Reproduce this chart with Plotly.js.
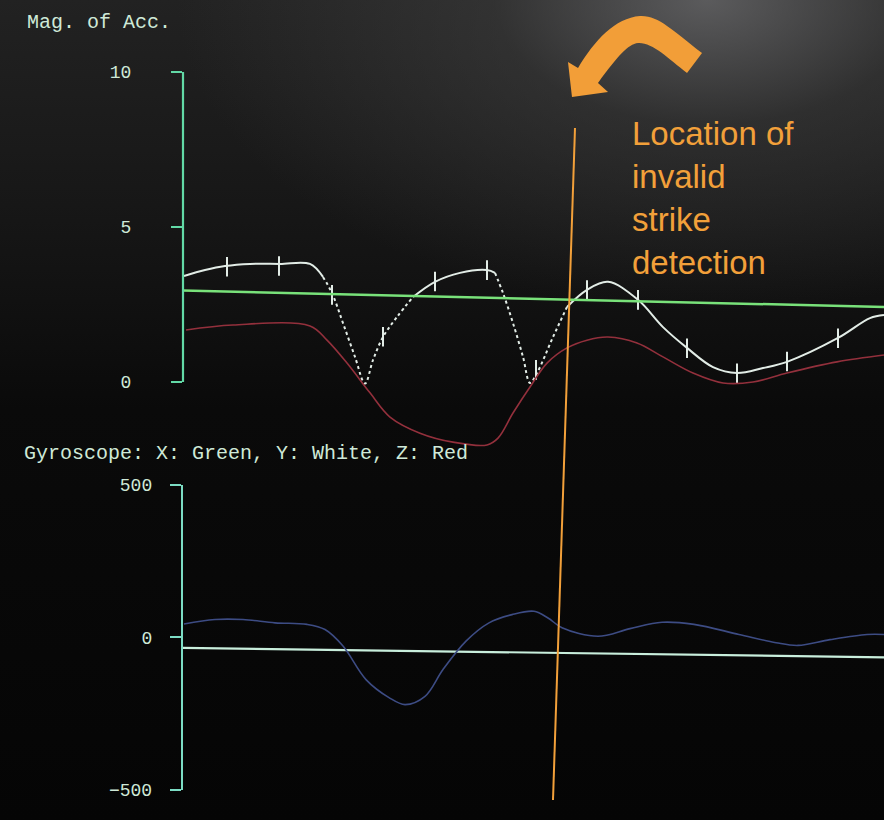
<!DOCTYPE html>
<html>
<head>
<meta charset="utf-8">
<script src="https://cdn.plot.ly/plotly-3.0.1.min.js"></script>
<style>
  html, body { margin: 0; padding: 0; }
  body {
    width: 884px; height: 820px; overflow: hidden;
    background:
      radial-gradient(ellipse 60% 38% at 80% 0%, rgba(110,110,112,0.75) 0%, rgba(70,70,70,0.45) 40%, rgba(30,30,30,0) 100%),
      linear-gradient(to bottom, #222222 0%, #171717 25%, #0a0a0a 50%, #050505 100%);
  }
</style>
</head>
<body>
<div id="graphDiv"></div>
<script>
// sample index (t) and values

// accelerometer magnitude, white trace
const accT = [1, 22, 42, 67, 97, 127, 140, 149, 160, 172, 182, 190, 200, 214, 230, 252, 277, 304, 312, 320, 330, 340, 347, 354, 370, 384, 404, 425, 455, 480, 504, 530, 554, 580, 604, 655, 687, 701]
const accY = [3.42, 3.61, 3.74, 3.81, 3.81, 3.81, 3.39, 2.87, 1.90, 0.81, -0.05, 0.71, 1.45, 2.10, 2.74, 3.23, 3.52, 3.61, 3.52, 2.87, 1.90, 0.81, -0.03, 0.29, 1.45, 2.42, 2.97, 3.23, 2.65, 1.77, 1.10, 0.48, 0.29, 0.45, 0.65, 1.42, 2.06, 2.16]
// sample markers on the white trace
const tickT = [44, 96, 149, 200, 252, 304, 353, 404, 455, 504, 554, 604, 655]
const tickY = [3.72, 3.74, 2.81, 1.46, 3.24, 3.61, 0.39, 2.97, 2.65, 1.09, 0.28, 0.66, 1.41]
// red trace
const redT = [3, 50, 127, 144, 164, 187, 207, 237, 270, 304, 315, 330, 347, 364, 384, 404, 425, 454, 480, 510, 540, 570, 604, 654, 701]
const redY = [1.68, 1.84, 1.81, 1.35, 0.61, -0.35, -1.13, -1.65, -1.94, -2.03, -1.81, -1.00, -0.16, 0.61, 1.10, 1.35, 1.45, 1.26, 0.81, 0.29, -0.03, 0.0, 0.29, 0.65, 0.87]
// green threshold line
const thrT = [0, 701]
const thrY = [2.95, 2.42]

// gyroscope
const gyrT = [1, 32, 60, 92, 124, 142, 160, 183, 206, 222, 242, 260, 283, 306, 329, 351, 365, 379, 415, 447, 479, 511, 556, 593, 615, 647, 684, 701]
const gyrY = [44, 59, 59, 48, 43, 26, -28, -138, -197, -220, -193, -105, -12, 48, 75, 86, 64, 32, 4, 29, 50, 43, 10, -17, -26, -7, 10, 10]
const gyrLineT = [0, 701]
const gyrLineY = [-34, -65]

// segments of the white trace drawn dotted (index ranges)
const dotted = [[6, 14], [18, 25]]

// pixel -> paper helpers
const L = 183, T = 72, W = 701, H = 718
const px = x => (x - L) / W
const py = y => (T + H - y) / H

const mint = '#62d9a6'
const mint2 = '#7cdcc4'
const txtCol = '#cfe9d8'
const mono = 'Liberation Mono, DejaVu Sans Mono, monospace'
const orange = '#f2a03a'

let traces = []
// white trace split into solid / dotted pieces
let cuts = [0]
dotted.forEach(d => { cuts.push(d[0]); cuts.push(d[1]) })
cuts.push(accT.length - 1)
for (let i = 0; i < cuts.length - 1; i++) {
    let a = cuts[i], b = cuts[i + 1]
    traces.push({
        x: accT.slice(a, b + 1), y: accY.slice(a, b + 1),
        mode: 'lines', hoverinfo: 'skip',
        line: {color: '#e2ece6', width: 2, dash: i % 2 ? 'dot' : 'solid', shape: 'spline'}
    })
}
traces.push({
    x: tickT, y: tickY, mode: 'markers', hoverinfo: 'skip',
    marker: {symbol: 'line-ns', size: 14, line: {color: '#e2ece6', width: 2}}
})
traces.push({
    x: redT, y: redY, mode: 'lines', hoverinfo: 'skip',
    line: {color: '#93303c', width: 1.6, shape: 'spline'}
})
traces.push({
    x: thrT, y: thrY, mode: 'lines', hoverinfo: 'skip',
    line: {color: '#79e27a', width: 2.5}
})
traces.push({
    x: gyrLineT, y: gyrLineY, xaxis: 'x2', yaxis: 'y2', mode: 'lines', hoverinfo: 'skip',
    line: {color: '#c8eedc', width: 2.2}
})
traces.push({
    x: gyrT, y: gyrY, xaxis: 'x2', yaxis: 'y2', mode: 'lines', hoverinfo: 'skip',
    line: {color: '#3d4c84', width: 1.6, shape: 'spline'}
})

// curved arrow outline, in screen pixels
const arrow = [
    ['M', 568, 62], ['L', 578, 68],
    ['C', 595, 40, 615, 18, 640, 16], ['C', 658, 15, 672, 30, 702, 53],
    ['L', 687, 73],
    ['C', 668, 58, 652, 42, 638, 43], ['C', 628, 44, 618, 56, 598, 83],
    ['L', 608, 92], ['L', 572, 97]
]
let arrowPath = arrow.map(s => {
    let out = s[0]
    for (let k = 1; k < s.length; k += 2) out += ' ' + px(s[k]).toFixed(4) + ',' + py(s[k + 1]).toFixed(4)
    return out
}).join(' ') + ' Z'

const layout = {
    width: 884,
    height: 820,
    margin: {l: L, r: 0, t: T, b: 820 - T - H, pad: 0},
    paper_bgcolor: 'rgba(0,0,0,0)',
    plot_bgcolor: 'rgba(0,0,0,0)',
    showlegend: false,
    xaxis: {range: [0, 701], visible: false, fixedrange: true},
    xaxis2: {range: [0, 701], visible: false, anchor: 'y2'},
    yaxis: {
        domain: [0.4711, 1], range: [-2.25, 10], tickvals: [0, 5, 10],
        ticks: 'outside', ticklen: 11, tickwidth: 2, tickcolor: mint,
        showgrid: false, zeroline: false, showline: false,
        ticklabelstandoff: 36,
        tickfont: {family: mono, size: 18, color: txtCol}
    },
    yaxis2: {
        domain: [0, 0.4248], range: [-500, 500], tickvals: [-500, 0, 500],
        ticks: 'outside', ticklen: 11, tickwidth: 2, tickcolor: mint2,
        showline: true, linecolor: mint2, linewidth: 2.2,
        showgrid: false, zeroline: false, anchor: 'x2',
        ticklabelstandoff: 14,
        tickfont: {family: mono, size: 18, color: txtCol}
    },
    shapes: [
        // upper axis spine, only 0..10
        {type: 'line', xref: 'paper', yref: 'y', x0: 0, x1: 0, y0: 0, y1: 10,
         line: {color: mint, width: 2.2}},
        // invalid strike marker
        {type: 'line', xref: 'paper', yref: 'paper', x0: px(575), y0: py(128), x1: px(553), y1: py(800),
         line: {color: orange, width: 2}},
        {type: 'path', xref: 'paper', yref: 'paper', path: arrowPath,
         fillcolor: '#f29e38', line: {width: 0}}
    ],
    annotations: [
        {text: 'Mag. of Acc.', xref: 'paper', yref: 'paper', x: px(25), y: py(23),
         xanchor: 'left', yanchor: 'middle', showarrow: false,
         font: {family: mono, size: 20, color: txtCol}},
        {text: 'Gyroscope: X: Green, Y: White, Z: Red', xref: 'paper', yref: 'paper', x: px(22), y: py(453),
         xanchor: 'left', yanchor: 'middle', showarrow: false,
         font: {family: mono, size: 20, color: txtCol}},
        {text: 'Location of<br>invalid<br>strike<br>detection', xref: 'paper', yref: 'paper',
         x: px(630), y: py(113), xanchor: 'left', yanchor: 'top', align: 'left', showarrow: false,
         font: {family: 'Liberation Sans, Arial, sans-serif', size: 33, color: orange}}
    ]
}

Plotly.newPlot('graphDiv', traces, layout, {staticPlot: true})
</script>
</body>
</html>
